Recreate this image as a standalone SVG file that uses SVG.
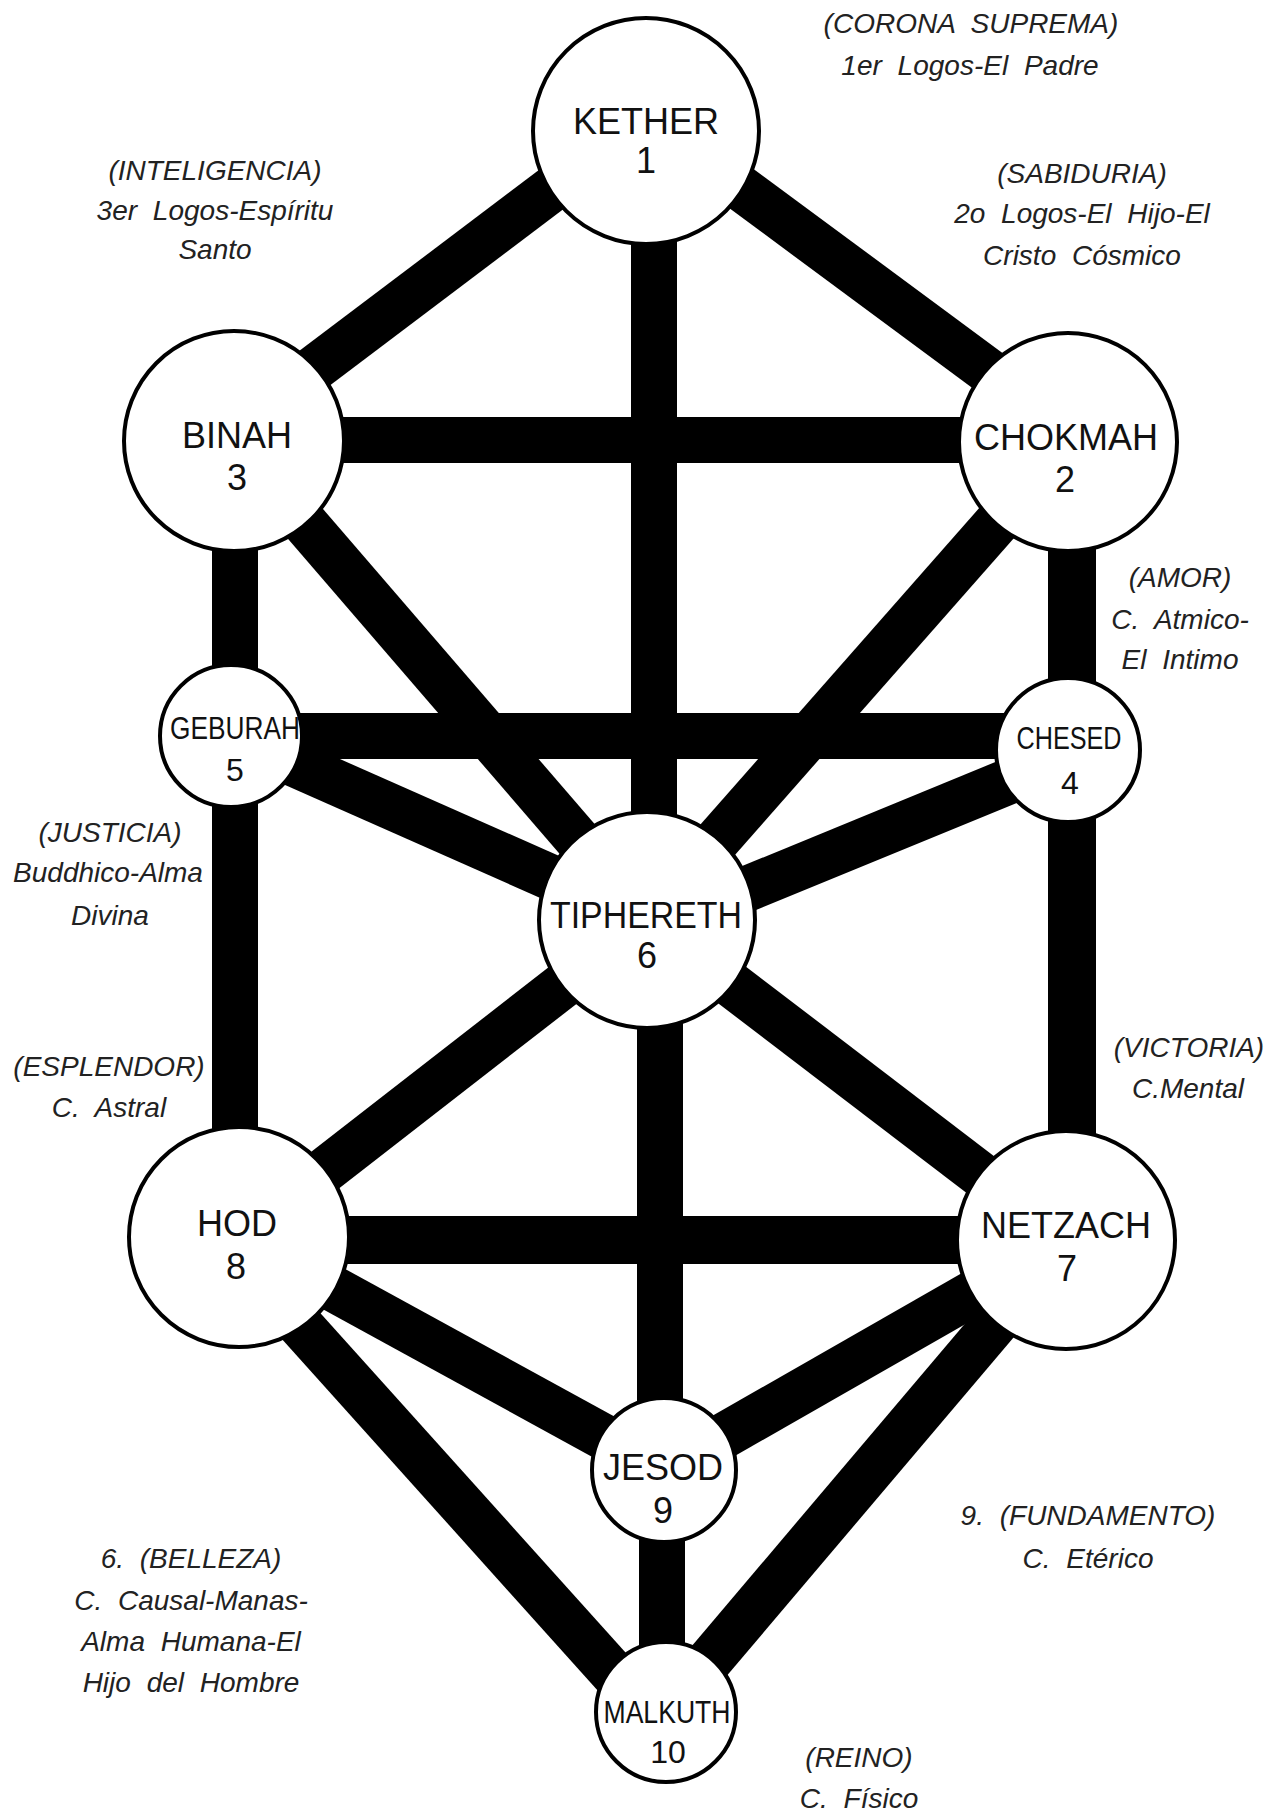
<svg xmlns="http://www.w3.org/2000/svg" width="1280" height="1814" viewBox="0 0 1280 1814">
<style>
.bar{stroke:#000;stroke-width:46;stroke-linecap:butt;fill:none}
.node circle{fill:#fff;stroke:#000;stroke-width:4}
.name,.num{font-family:"Liberation Sans",Arial,Helvetica,sans-serif;font-size:36px;fill:#111;text-anchor:middle}
.sm{font-size:32px}
.lbl{font-family:"Liberation Sans",Arial,Helvetica,sans-serif;font-size:28px;font-style:italic;fill:#222;text-anchor:middle;word-spacing:8px}
</style>
<rect width="1280" height="1814" fill="#fff"/>
<g id="connectors">
<line class="bar" x1="646" y1="118" x2="234" y2="429"/>
<line class="bar" x1="646" y1="118" x2="1068" y2="430"/>
<line class="bar" x1="654" y1="131" x2="654" y2="920"/>
<line class="bar" x1="234" y1="440" x2="1068" y2="440"/>
<line class="bar" x1="235" y1="441" x2="235" y2="1237"/>
<line class="bar" x1="234" y1="441" x2="647" y2="920"/>
<line class="bar" x1="1072" y1="442" x2="1072" y2="1240" style="stroke-width:48"/>
<line class="bar" x1="1068" y1="442" x2="647" y2="920"/>
<line class="bar" x1="231" y1="736" x2="1068" y2="736"/>
<line class="bar" x1="231" y1="736" x2="647" y2="920"/>
<line class="bar" x1="1068" y1="757" x2="647" y2="930"/>
<line class="bar" x1="647" y1="920" x2="239" y2="1237"/>
<line class="bar" x1="647" y1="920" x2="1066" y2="1240"/>
<line class="bar" x1="660" y1="920" x2="660" y2="1470"/>
<line class="bar" x1="239" y1="1240" x2="1066" y2="1240" style="stroke-width:48"/>
<line class="bar" x1="239" y1="1237" x2="664" y2="1470"/>
<line class="bar" x1="221" y1="1237" x2="648" y2="1712"/>
<line class="bar" x1="1066" y1="1240" x2="664" y2="1470"/>
<line class="bar" x1="1066" y1="1240" x2="666" y2="1712"/>
<line class="bar" x1="662" y1="1470" x2="662" y2="1712"/>
</g>
<g id="kether" class="node"><circle cx="646" cy="131" r="113"/><text class="name" x="646" y="134">KETHER</text><text class="num" x="646" y="173">1</text></g>
<g id="chokmah" class="node"><circle cx="1068" cy="442" r="109"/><text class="name" x="1066" y="450">CHOKMAH</text><text class="num" x="1065" y="492">2</text></g>
<g id="binah" class="node"><circle cx="234" cy="441" r="110"/><text class="name" x="237" y="448">BINAH</text><text class="num" x="237" y="490">3</text></g>
<g id="chesed" class="node"><circle cx="1068" cy="750" r="72"/><text class="name sm" x="1069" y="749" textLength="105" lengthAdjust="spacingAndGlyphs">CHESED</text><text class="num sm" x="1070" y="794">4</text></g>
<g id="geburah" class="node"><circle cx="231" cy="736" r="71"/><text class="name sm" x="235" y="739" textLength="130" lengthAdjust="spacingAndGlyphs">GEBURAH</text><text class="num sm" x="235" y="781">5</text></g>
<g id="tiphereth" class="node"><circle cx="647" cy="920" r="108"/><text class="name" x="646" y="928" textLength="192" lengthAdjust="spacingAndGlyphs">TIPHERETH</text><text class="num" x="647" y="968">6</text></g>
<g id="netzach" class="node"><circle cx="1066" cy="1240" r="109"/><text class="name" x="1066" y="1238">NETZACH</text><text class="num" x="1067" y="1281">7</text></g>
<g id="hod" class="node"><circle cx="239" cy="1237" r="110"/><text class="name" x="237" y="1236">HOD</text><text class="num" x="236" y="1279">8</text></g>
<g id="jesod" class="node"><circle cx="664" cy="1470" r="72"/><text class="name" x="663" y="1480">JESOD</text><text class="num" x="663" y="1523">9</text></g>
<g id="malkuth" class="node"><circle cx="666" cy="1712" r="70"/><text class="name sm" x="667" y="1723" textLength="127" lengthAdjust="spacingAndGlyphs">MALKUTH</text><text class="num sm" x="668" y="1763">10</text></g>
<g id="labels">
<text class="lbl" x="971" y="33">(CORONA SUPREMA)</text>
<text class="lbl" x="970" y="75">1er Logos-El Padre</text>
<text class="lbl" x="1082" y="183">(SABIDURIA)</text>
<text class="lbl" x="1082" y="223">2o Logos-El Hijo-El</text>
<text class="lbl" x="1082" y="265">Cristo Cósmico</text>
<text class="lbl" x="215" y="180">(INTELIGENCIA)</text>
<text class="lbl" x="215" y="220">3er Logos-Espíritu</text>
<text class="lbl" x="215" y="259">Santo</text>
<text class="lbl" x="1180" y="587">(AMOR)</text>
<text class="lbl" x="1180" y="629">C. Atmico-</text>
<text class="lbl" x="1180" y="669">El Intimo</text>
<text class="lbl" x="110" y="842">(JUSTICIA)</text>
<text class="lbl" x="108" y="882">Buddhico-Alma</text>
<text class="lbl" x="110" y="925">Divina</text>
<text class="lbl" x="109" y="1076">(ESPLENDOR)</text>
<text class="lbl" x="109" y="1117">C. Astral</text>
<text class="lbl" x="1189" y="1057">(VICTORIA)</text>
<text class="lbl" x="1188" y="1098">C.Mental</text>
<text class="lbl" x="1088" y="1525">9. (FUNDAMENTO)</text>
<text class="lbl" x="1088" y="1568">C. Etérico</text>
<text class="lbl" x="191" y="1568">6. (BELLEZA)</text>
<text class="lbl" x="191" y="1610">C. Causal-Manas-</text>
<text class="lbl" x="191" y="1651">Alma Humana-El</text>
<text class="lbl" x="191" y="1692">Hijo del Hombre</text>
<text class="lbl" x="859" y="1767">(REINO)</text>
<text class="lbl" x="859" y="1808">C. Físico</text>
</g>
</svg>
